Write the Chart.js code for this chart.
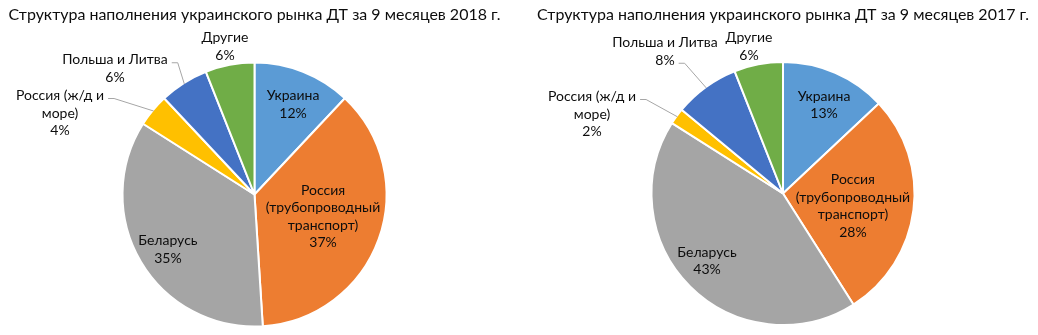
<!DOCTYPE html>
<html>
<head>
<meta charset="utf-8">
<script src="https://cdn.jsdelivr.net/npm/chart.js@4/dist/chart.umd.min.js"></script>
<style>
  body { margin: 0; background: #fff; }
  .wrap { position: absolute; top: 0; width: 519px; height: 335px; }
</style>
</head>
<body>
<div class="wrap" style="left:0"><canvas id="pie2018" width="519" height="335"></canvas></div>
<div class="wrap" style="left:519px"><canvas id="pie2017" width="519" height="335"></canvas></div>
<script>
const categories = ['Украина', 'Россия (трубопроводный транспорт)', 'Беларусь', 'Россия (ж/д и море)', 'Польша и Литва', 'Другие'];
const labelLines = [['Украина'], ['Россия', '(трубопроводный', 'транспорт)'], ['Беларусь'], ['Россия (ж/д и', 'море)'], ['Польша и Литва'], ['Другие']];
const share2018 = [12, 37, 35, 4, 6, 6];
const share2017 = [13, 28, 43, 2, 8, 6];
const sliceColors = ['#5B9BD5', '#ED7D31', '#A5A5A5', '#FFC000', '#4472C4', '#70AD47'];

const FONT = 'Lato, "Open Sans", sans-serif';
const TEXT = '#0d0d0d';

// inside labels: fraction of radius + angle shift (deg) along the slice middle
// outside labels: offset from the pie centre, optional leader line
const place2018 = [
  { f: 0.742, da: 1.6 },
  { f: 0.545, da: -2 },
  { f: 0.777, da: -1.8 },
  { dx: -194.5, dy: -81.5, leader: 0 },
  { dx: -139.5, dy: -126, leader: 0 },
  { dx: -29.5, dy: -148 }
];
const place2017 = [
  { f: 0.741, da: 1.5 },
  { f: 0.54, da: 2.8 },
  { f: 0.773, da: 3.4 },
  { dx: -191, dy: -79.5, leader: 0 },
  { dx: -118, dy: -142, leader: 1 },
  { dx: -34, dy: -147 }
];

const sliceLabels = {
  id: 'sliceLabels',
  afterDatasetsDraw(chart, args, opts) {
    const ctx = chart.ctx;
    const arcs = chart.getDatasetMeta(0).data;
    const values = chart.data.datasets[0].data;
    const lh = 17.5;
    ctx.save();
    ctx.fillStyle = TEXT;
    ctx.font = '14px ' + FONT;
    ctx.textAlign = 'center';
    ctx.textBaseline = 'middle';
    arcs.forEach((arc, i) => {
      const p = opts.place[i];
      const mid = (arc.startAngle + arc.endAngle) / 2;
      let x, y;
      if (p.f !== undefined) {
        const a = mid + p.da * Math.PI / 180;
        x = arc.x + Math.cos(a) * arc.outerRadius * p.f;
        y = arc.y + Math.sin(a) * arc.outerRadius * p.f;
      } else {
        x = arc.x + p.dx;
        y = arc.y + p.dy;
      }
      const lines = labelLines[i].concat([values[i] + '%']);
      const top = y - (lines.length - 1) * lh / 2;
      lines.forEach((t, k) => ctx.fillText(t, x, top + k * lh));
      if (p.leader !== undefined) {
        const w = ctx.measureText(lines[p.leader]).width;
        const sx = x + w / 2 + 4;
        const sy = top + p.leader * lh + 3;
        const ex = arc.x + Math.cos(mid) * (arc.outerRadius - 1);
        const ey = arc.y + Math.sin(mid) * (arc.outerRadius - 1);
        ctx.strokeStyle = '#A6A6A6';
        ctx.lineWidth = 1;
        ctx.beginPath();
        ctx.moveTo(sx, sy);
        ctx.lineTo(sx + 6, sy);
        ctx.lineTo(ex, ey);
        ctx.stroke();
      }
    });
    // title over the pie
    const cx = (chart.chartArea.left + chart.chartArea.right) / 2;
    ctx.font = '15px ' + FONT;
    const tw = ctx.measureText(opts.title).width;
    const sc = 492 / tw;
    ctx.translate(cx, 15.5);
    ctx.scale(sc, 1);
    ctx.fillText(opts.title, 0, 0);
    ctx.restore();
  }
};

function makePie(id, values, place, title, padding) {
  return new Chart(document.getElementById(id), {
    type: 'pie',
    data: {
      labels: categories,
      datasets: [{
        data: values,
        backgroundColor: sliceColors,
        borderColor: '#fff',
        borderWidth: 2
      }]
    },
    options: {
      responsive: false,
      animation: false,
      events: [],
      layout: { padding: padding },
      plugins: {
        legend: { display: false },
        tooltip: { enabled: false },
        sliceLabels: { place: place, title: title }
      }
    },
    plugins: [sliceLabels]
  });
}

makePie('pie2018', share2018, place2018, 'Структура наполнения украинского рынка ДТ за 9 месяцев 2018 г.',
  { top: 61.5, bottom: 7.5, left: 0, right: 10 });
makePie('pie2017', share2017, place2017, 'Структура наполнения украинского рынка ДТ за 9 месяцев 2017 г.',
  { top: 61, bottom: 9, left: 9, right: 0 });
</script>
</body>
</html>
